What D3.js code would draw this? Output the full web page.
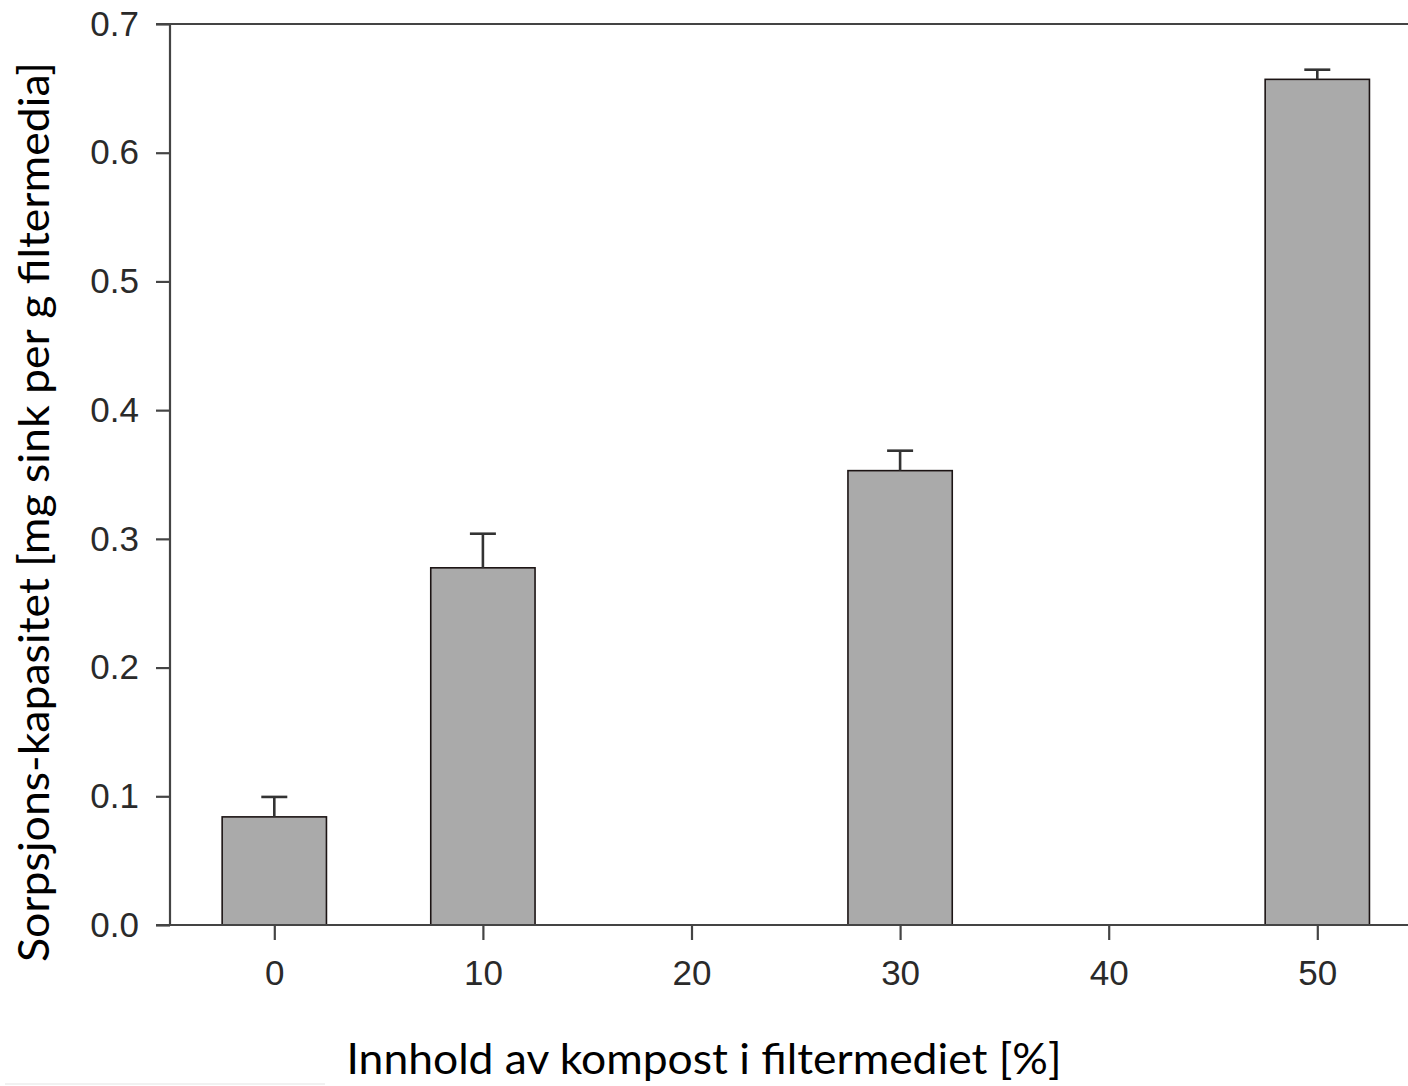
<!DOCTYPE html>
<html>
<head>
<meta charset="utf-8">
<script src="https://cdn.jsdelivr.net/npm/d3@7"></script>
<style>
html,body{margin:0;padding:0;background:#fff;}
svg{display:block;}
</style>
</head>
<body>
<svg id="chart" width="1408" height="1086"></svg>
<script>
const compost = [0, 10, 30, 50];
const capacity = [0.084, 0.2775, 0.353, 0.657];
const errorUp = [0.0155, 0.0265, 0.0155, 0.0075];
const xTicks = [0, 10, 20, 30, 40, 50];
const yTicks = [0, 0.1, 0.2, 0.3, 0.4, 0.5, 0.6, 0.7];
const yTickLabels = ["0.0", "0.1", "0.2", "0.3", "0.4", "0.5", "0.6", "0.7"];
const xTitle = "Innhold av kompost i filtermediet [%]";
const yTitle = "Sorpsjons-kapasitet [mg sink per g filtermedia]";

(function () {
const svg = d3.select("#chart");
const plotLeft = 170, plotTop = 24, plotBottom = 925;
const x = d3.scaleLinear().domain([-5, 55]).range([plotLeft, plotLeft + 60 * 20.86]);
const y = d3.scaleLinear().domain([0, 0.7]).range([plotBottom, plotTop]);
const axisColor = "#444";
const labelColor = "#2a2a2a";
const tickFont = "'Liberation Sans', Arial, sans-serif";

// bars
const data = compost.map((c, i) => ({c, v: capacity[i], e: errorUp[i]}));
svg.append("g").selectAll("rect").data(data).join("rect")
  .attr("x", d => x(d.c - 2.5))
  .attr("width", d => x(d.c + 2.5) - x(d.c - 2.5))
  .attr("y", d => y(d.v))
  .attr("height", d => y(0) - y(d.v))
  .attr("fill", "#aaaaaa")
  .attr("stroke", "#1c1414")
  .attr("stroke-width", 1.6);

// error bars
const eg = svg.append("g").attr("stroke", "#333").attr("stroke-width", 2.6);
eg.selectAll("line.v").data(data).join("line").attr("class", "v")
  .attr("x1", d => x(d.c)).attr("x2", d => x(d.c))
  .attr("y1", d => y(d.v)).attr("y2", d => y(d.v + d.e));
eg.selectAll("line.c").data(data).join("line").attr("class", "c")
  .attr("x1", d => x(d.c) - 13).attr("x2", d => x(d.c) + 13)
  .attr("y1", d => y(d.v + d.e)).attr("y2", d => y(d.v + d.e));

// y axis
const yAxis = d3.axisLeft(y).tickValues(yTicks)
  .tickFormat((d, i) => yTickLabels[i]).tickSize(14).tickPadding(17);
const gy = svg.append("g").attr("transform", `translate(${plotLeft},0)`).call(yAxis);
gy.select(".domain").attr("stroke", axisColor).attr("stroke-width", 2.2).attr("d", `M0,${plotTop}V${plotBottom}`);
gy.selectAll(".tick line").attr("stroke", axisColor).attr("stroke-width", 2.2);
gy.selectAll(".tick text").attr("fill", labelColor)
  .style("font-family", tickFont).style("font-size", "35px");

// x axis
const xAxis = d3.axisBottom(x).tickValues(xTicks).tickSize(15).tickPadding(20);
const gx = svg.append("g").attr("transform", `translate(0,${plotBottom})`).call(xAxis);
gx.select(".domain").attr("stroke", axisColor).attr("stroke-width", 2.2)
  .attr("d", `M${plotLeft - 14},0H1408`);
gx.selectAll(".tick line").attr("stroke", axisColor).attr("stroke-width", 2.2);
gx.selectAll(".tick text").attr("fill", labelColor)
  .style("font-family", tickFont).style("font-size", "35px");

// top border
svg.append("line").attr("x1", plotLeft - 14).attr("x2", 1408)
  .attr("y1", y(0.7)).attr("y2", y(0.7))
  .attr("stroke", axisColor).attr("stroke-width", 2.2);

// titles
svg.append("text").text(xTitle)
  .attr("x", 704).attr("y", 1074).attr("text-anchor", "middle")
  .attr("textLength", 715).attr("lengthAdjust", "spacingAndGlyphs")
  .style("font-family", "Lato, 'Open Sans', sans-serif").style("font-size", "42px").attr("fill", "#000");

svg.append("text").text(yTitle)
  .attr("transform", "translate(49,512) rotate(-90)").attr("text-anchor", "middle")
  .attr("textLength", 900).attr("lengthAdjust", "spacingAndGlyphs")
  .style("font-family", "Lato, 'Open Sans', sans-serif").style("font-size", "43px").attr("fill", "#000");

// faint line at bottom left
svg.append("line").attr("x1", 5).attr("x2", 325).attr("y1", 1084).attr("y2", 1084)
  .attr("stroke", "#ececec").attr("stroke-width", 1.5);
})();
</script>
</body>
</html>
